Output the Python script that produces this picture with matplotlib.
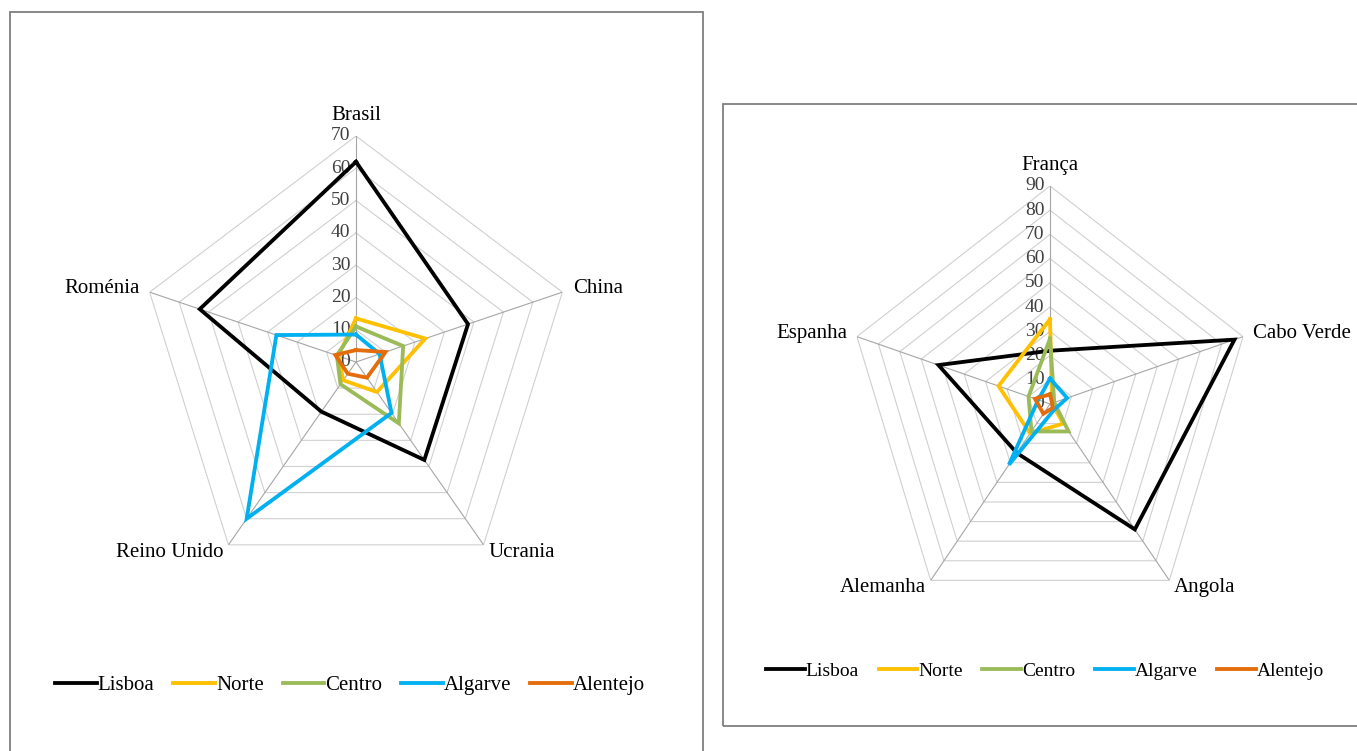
import numpy as np
import matplotlib
matplotlib.use("Agg")
import matplotlib.pyplot as plt
from matplotlib.patches import Rectangle

# ---- data -------------------------------------------------------------
regions = ["Lisboa", "Norte", "Centro", "Algarve", "Alentejo"]
region_colors = ["#000000", "#FFC000", "#9BBB59", "#00B0F0", "#E46C0A"]

left_categories = ["Brasil", "China", "Ucrania", "Reino Unido", "Roménia"]
left_lisboa = [62, 38, 37.5, 19, 53]
left_norte = [13.5, 23.5, 11.5, 7, 6]
left_centro = [11, 16, 23.5, 8.5, 6.5]
left_algarve = [8.5, 8, 19.5, 60, 27]
left_alentejo = [3.7, 10, 6, 4.5, 7]
left_ticks = [0, 10, 20, 30, 40, 50, 60, 70]

right_categories = ["França", "Cabo Verde", "Angola", "Alemanha", "Espanha"]
right_lisboa = [22, 86, 64, 25, 52]
right_norte = [35, 1, 10, 15, 24]
right_centro = [27, 2, 14, 14, 10]
right_algarve = [10.5, 8, 3, 31, 5.5]
right_alentejo = [4, 1, 2, 5, 7]
right_ticks = [0, 10, 20, 30, 40, 50, 60, 70, 80, 90]

W, H = 1357, 751
plt.rcParams["font.family"] = ["Liberation Serif", "DejaVu Serif"]

fig = plt.figure(figsize=(W / 100, H / 100), dpi=100)
fig.patch.set_facecolor("white")


def px_rect(x0, y0, x1, y1):
    """pixel box (top-left origin) -> figure fraction [l, b, w, h]"""
    return [x0 / W, 1 - y1 / H, (x1 - x0) / W, (y1 - y0) / H]


# frames around each chart
for (x0, y0, x1, y1) in [(10, 12, 703, 753), (723, 104, 1360, 726)]:
    l, b, w, h = px_rect(x0, y0, x1, y1)
    fig.patches.append(Rectangle((l, b), w, h, transform=fig.transFigure,
                                 fill=False, edgecolor="#7F7F7F", lw=1.3))


def radar(rect, categories, series, ticks):
    ax = fig.add_axes(rect, projection="polar")
    ax.set_aspect("auto")
    ax.set_theta_offset(np.pi / 2)
    ax.set_theta_direction(-1)
    n = len(categories)
    angles = np.linspace(0, 2 * np.pi, n, endpoint=False)
    closed = np.append(angles, angles[0])
    rmax = ticks[-1]
    ax.set_ylim(0, rmax)
    ax.set_xticks([])
    ax.set_yticks([])
    ax.grid(False)
    ax.spines["polar"].set_visible(False)
    ax.patch.set_alpha(0)

    # pentagon rings and spokes
    for t in ticks[1:]:
        ax.plot(closed, [t] * (n + 1), color="#D0D0D0", lw=0.8, zorder=1)
    for a in angles:
        ax.plot([a, a], [0, rmax], color="#A6A6A6", lw=0.8, zorder=1)

    # scale labels on the first spoke
    for t in ticks:
        ax.annotate(str(t), xy=(0, t), xytext=(-4, 0), textcoords="offset points",
                    ha="right", va="center", fontsize=14, color="#404040",
                    annotation_clip=False)

    # category labels
    for a, name in zip(angles, categories):
        deg = np.degrees(a) % 360
        if deg < 1:
            ha, va, r = "center", "bottom", 1.05
        elif deg < 90:
            ha, va, r = "left", "center", 1.05
        elif deg < 180:
            ha, va, r = "left", "center", 1.04
        elif deg < 270:
            ha, va, r = "right", "center", 1.04
        else:
            ha, va, r = "right", "center", 1.05
        ax.text(a, rmax * r, name, ha=ha, va=va, fontsize=15, color="#000000",
                clip_on=False)

    handles = []
    for name, color, vals in zip(regions, region_colors, series):
        line, = ax.plot(closed, list(vals) + [vals[0]], color=color, lw=2.75,
                        label=name, zorder=3, solid_joinstyle="miter")
        handles.append(line)
    return ax, handles


ax1, h1 = radar(px_rect(139, 136, 573, 588), left_categories,
                [left_lisboa, left_norte, left_centro, left_algarve, left_alentejo],
                left_ticks)
ax2, h2 = radar(px_rect(847, 186, 1253, 622), right_categories,
                [right_lisboa, right_norte, right_centro, right_algarve, right_alentejo],
                right_ticks)

for handles, cx, cy, fs, cs in [(h1, 350, 685, 15, 0.9), (h2, 1045, 671, 14, 1.0)]:
    fig.legend(handles=handles, labels=regions, loc="center",
               bbox_to_anchor=(cx / W, 1 - cy / H), ncol=5, frameon=False,
               fontsize=fs, handlelength=2.0, handletextpad=0.05,
               columnspacing=cs)

fig.savefig("out.png", dpi=100, facecolor="white")
